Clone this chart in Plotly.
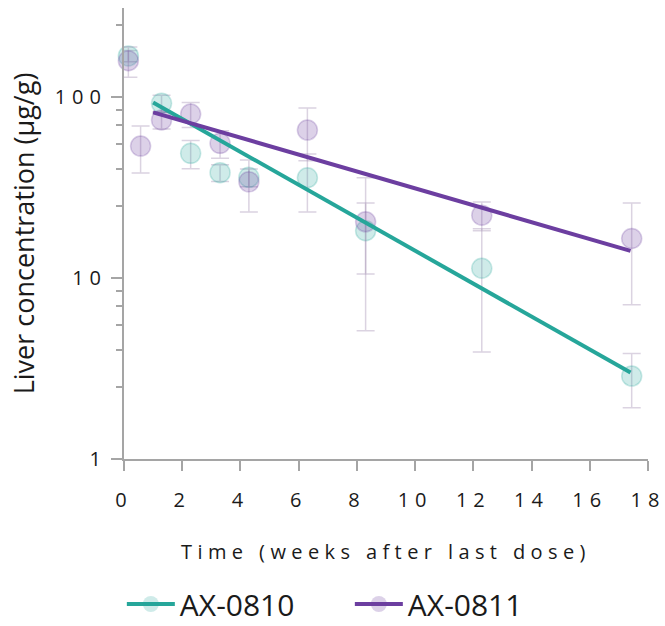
import plotly.graph_objects as go

# ---- data ----
weeks_0810 = [0.15, 1.29, 2.29, 3.30, 4.29, 6.30, 8.30, 12.29, 17.44]
conc_0810 = [168, 92, 48.7, 38.1, 35.9, 35.7, 18.2, 11.3, 2.87]
err_0810 = [12, 10, 8.7, 4, 4, 12.6, 7.7, 7.4, 0.95]

weeks_0811 = [0.15, 0.57, 1.29, 2.29, 3.30, 4.29, 6.30, 8.30, 12.29, 17.44]
conc_0811 = [158, 53.4, 74.4, 80.3, 55.3, 33.9, 65.5, 20.4, 22.2, 16.5]
err_0811 = [30, 15.5, 8, 12.6, 9.6, 10.8, 21.2, 15.3, 4.0, 9.4]

fit_weeks = [1.0, 17.4]
fit_0810 = [93, 3.0]
fit_0811 = [82, 14.1]

x_ticks = [0, 2, 4, 6, 8, 10, 12, 14, 16, 18]
y_ticks = [1, 10, 100]
y_minor = [2.5, 4, 5.5, 7, 8.5, 25, 40, 55, 70, 85, 250]

series_names = ["AX-0810", "AX-0811"]

# ---- styles ----
TEAL = "rgb(38,166,154)"
PURPLE = "rgb(108,62,160)"
TEAL_FILL = "rgba(38,166,154,0.22)"
PURPLE_FILL = "rgba(108,62,160,0.24)"
ERR_COL = "rgba(160,140,175,0.38)"
AXIS_COL = "rgb(165,165,165)"
FONT = "Open Sans"
TXT = "#1a1a1a"

fig = go.Figure()

for wk, conc, err, fill, edge in [
    (weeks_0810, conc_0810, err_0810, TEAL_FILL, "rgba(38,166,154,0.25)"),
    (weeks_0811, conc_0811, err_0811, PURPLE_FILL, "rgba(108,62,160,0.25)"),
]:
    fig.add_trace(go.Scatter(
        x=wk, y=conc, mode="markers", showlegend=False, cliponaxis=False,
        marker=dict(size=20, color=fill, line=dict(color=edge, width=1.5)),
        error_y=dict(type="data", array=err, visible=True,
                     color=ERR_COL, thickness=1.5, width=9),
    ))

fig.add_trace(go.Scatter(x=fit_weeks, y=fit_0810, mode="lines", showlegend=False,
                         line=dict(color=TEAL, width=4)))
fig.add_trace(go.Scatter(x=fit_weeks, y=fit_0811, mode="lines", showlegend=False,
                         line=dict(color=PURPLE, width=4)))

# legend entries
for name, col, fill in [(series_names[0], TEAL, TEAL_FILL), (series_names[1], PURPLE, PURPLE_FILL)]:
    fig.add_trace(go.Scatter(
        x=[None], y=[None], mode="lines+markers", name=name,
        line=dict(color=col, width=4),
        marker=dict(size=20, color=fill, line=dict(width=0)),
    ))

fig.update_layout(
    width=665, height=626,
    margin=dict(l=124, r=17, t=8, b=167, autoexpand=False),
    plot_bgcolor="white", paper_bgcolor="white",
    font=dict(family=FONT, color=TXT),
    legend=dict(orientation="h", x=0.431, xanchor="center", y=-0.3215, yanchor="middle",
                font=dict(family=FONT, size=30, color=TXT),
                itemsizing="trace", itemwidth=48, entrywidth=165, tracegroupgap=0),
    xaxis=dict(
        range=[0, 18], tickmode="array", tickvals=x_ticks,
        showline=True, linecolor=AXIS_COL, linewidth=2,
        ticks="outside", ticklen=10, tickwidth=2, tickcolor=AXIS_COL,
        showgrid=False, zeroline=False, ticklabelstandoff=12,
        tickfont=dict(family=FONT, size=20, color=TXT),
        title=dict(text="Time (weeks after last dose)", standoff=33,
                   font=dict(family=FONT, size=20, color=TXT)),
    ),
    yaxis=dict(
        type="log", range=[0, 2.49], tickmode="array", tickvals=y_ticks,
        ticktext=[str(v) for v in y_ticks],
        showline=True, linecolor=AXIS_COL, linewidth=2,
        ticks="outside", ticklen=11, tickwidth=2, tickcolor=AXIS_COL,
        showgrid=False, zeroline=False,
        minor=dict(tickmode="array", tickvals=y_minor, ticks="outside",
                   ticklen=6, tickwidth=2, tickcolor=AXIS_COL, showgrid=False),
        tickfont=dict(family=FONT, size=20, color=TXT),
        title=dict(text="Liver concentration (µg/g)", standoff=30,
                   font=dict(family=FONT, size=27, color=TXT)),
    ),
)

post = """
var s=document.createElement('style');
s.textContent='.xtick text,.ytick text{letter-spacing:6px}.xtitle{letter-spacing:5.4px}';
document.head.appendChild(s);
"""
fig.write_html("out.html", post_script=post)
